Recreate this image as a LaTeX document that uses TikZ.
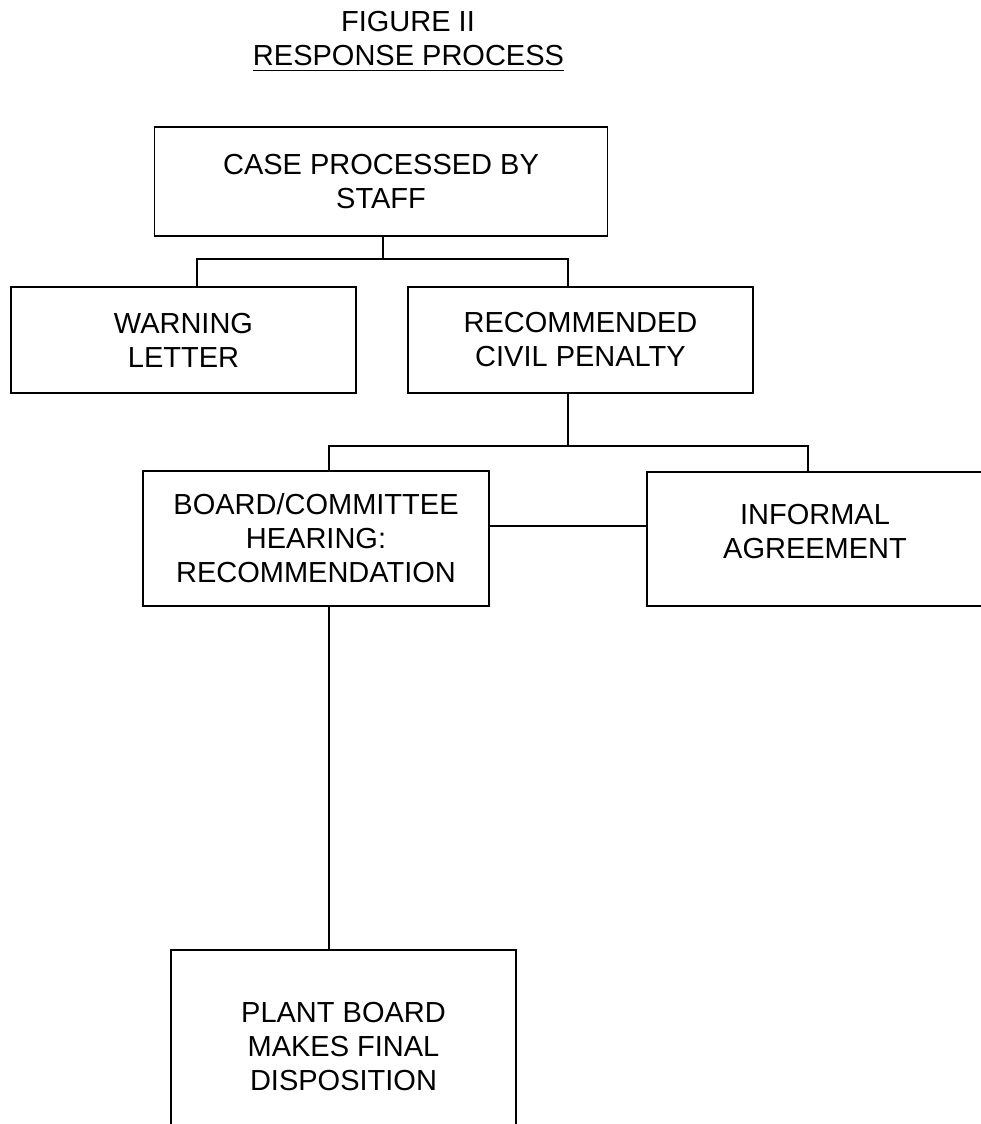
\documentclass[tikz,border=0pt]{standalone}
\usepackage{fontspec}
\setmainfont{Liberation Sans}
\begin{document}
\begin{tikzpicture}[x=1pt,y=-1pt,
  every node/.style={font=\fontsize{29}{34}\selectfont},
  bx/.style={draw=black, line width=1.6pt, align=center, inner sep=0pt},
  ln/.style={draw=black, line width=1.6pt},
  ttl/.style={anchor=base, inner sep=0pt}]
\useasboundingbox (0,0) rectangle (981,1124);
\fill[white] (0,0) rectangle (981,1124);
% title
\node[ttl] (fig) at (408,32) {FIGURE II};
\node[ttl] (rp) at (408.5,66) {RESPONSE PROCESS};
\draw[line width=1.4pt] ([yshift=-4.5pt]rp.base west) -- ([yshift=-4.5pt]rp.base east);
% boxes
\node[bx, minimum width=453pt, minimum height=109pt] (case) at (381,181.5) {CASE PROCESSED BY\\STAFF};
\node[bx, minimum width=345pt, minimum height=106pt] (warn) at (183.5,340) {WARNING\\LETTER};
\node[bx, minimum width=345pt, minimum height=106pt] (rec) at (580.5,340) {RECOMMENDED\\CIVIL PENALTY};
\node[bx, minimum width=346pt, minimum height=135pt] (board) at (316,538.5) {BOARD/COMMITTEE\\HEARING:\\RECOMMENDATION};
\node[bx, minimum width=336pt, minimum height=134pt, text depth=16pt] (inf) at (815,539) {INFORMAL\\AGREEMENT};
\node[bx, minimum width=345pt, minimum height=193pt] (plant) at (343.5,1046.5) {PLANT BOARD\\MAKES FINAL\\DISPOSITION};
% junctions
\coordinate (j1) at (383,259);
\coordinate (l1) at (197,259);
\coordinate (r1) at (568,259);
\coordinate (j2) at (568,446);
\coordinate (l2) at (329,446);
\coordinate (r2) at (808,446);
\coordinate (m) at (568,526);
\coordinate (l3) at (329,780);
% connectors
\draw[ln] (j1 |- case.south) -- (j1);
\draw[ln] (l1 |- warn.north) -- (l1) -- (r1) -- (r1 |- rec.north);
\draw[ln] (j2 |- rec.south) -- (j2);
\draw[ln] (l2 |- board.north) -- (l2) -- (r2) -- (r2 |- inf.north);
\draw[ln] (board.east |- m) -- (inf.west |- m);
\draw[ln] (l3 |- board.south) -- (l3 |- plant.north);
\end{tikzpicture}
\end{document}
